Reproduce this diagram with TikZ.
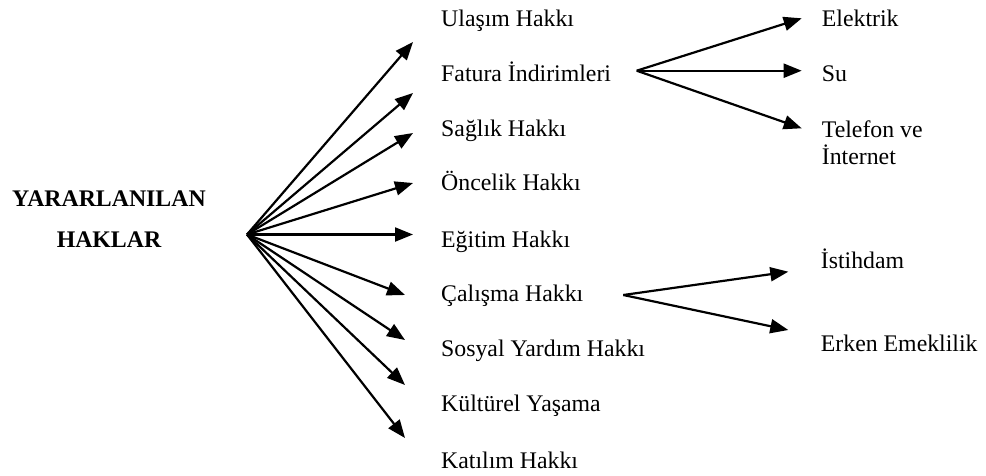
\documentclass[tikz,border=0pt]{standalone}
\usepackage{fontspec}
\setmainfont{Liberation Serif}
\usetikzlibrary{arrows.meta}
\tikzset{
  lbl/.style={anchor=base west,inner sep=0pt,font=\fontsize{23.8}{26.7}\selectfont},
  arr/.style={-{Triangle[length=18pt,width=14pt]},line width=2.2pt}
}
\begin{document}
\begin{tikzpicture}[x=1pt,y=-1pt]
\useasboundingbox (0,0) rectangle (986,475);
% title
\node[anchor=north,inner sep=0pt,align=center,font=\fontsize{23.8}{41}\selectfont\bfseries] (title) at (109,190.7) {YARARLANILAN\\HAKLAR};
% main items
\node[lbl] (n1) at (441,26.7) {Ulaşım Hakkı};
\node[lbl] (n2) at (441,81.7) {Fatura İndirimleri};
\node[lbl] (n3) at (441,136.7) {Sağlık Hakkı};
\node[lbl] (n4) at (441,190.7) {Öncelik Hakkı};
\node[lbl] (n5) at (441,247.3) {Eğitim Hakkı};
\node[lbl] (n6) at (441,301.7) {Çalışma Hakkı};
\node[lbl] (n7) at (441,356.7) {Sosyal Yardım Hakkı};
\node[lbl] (n8) at (441,411.7) {Kültürel Yaşama};
\node[lbl] (n9) at (441,468.3) {Katılım Hakkı};
% sub items
\node[lbl] (e1) at (821.7,26) {Elektrik};
\node[lbl] (e2) at (821.7,81) {Su};
\node[lbl,anchor=north west,align=left] (e3) at (821.7,120.6) {Telefon ve\\İnternet};
\node[lbl] (c1) at (820.7,268) {İstihdam};
\node[lbl] (c2) at (820.7,351) {Erken Emeklilik};
% hubs and tips
\coordinate (hub) at (247,234.5);
\coordinate (t1) at (413,42);
\coordinate (t2) at (413,93);
\coordinate (t3) at (413,133);
\coordinate (t4) at (413,183);
\coordinate (t5) at (413,234.5);
\coordinate (t6) at (405,295);
\coordinate (t7) at (405,340);
\coordinate (t8) at (405,385);
\coordinate (t9) at (405,438);
\coordinate (fhub) at (636.7,70.7);
\coordinate (f1) at (801.7,18.3);
\coordinate (f2) at (801.7,70.7);
\coordinate (f3) at (801.7,128.3);
\coordinate (chub) at (623.3,295);
\coordinate (k1) at (788.3,271.7);
\coordinate (k2) at (788.3,330);
\foreach \t in {t1,t2,t3,t4,t5,t6,t7,t8,t9}{\draw[arr] (hub) -- (\t);}
\foreach \t in {f1,f2,f3}{\draw[arr] (fhub) -- (\t);}
\foreach \t in {k1,k2}{\draw[arr] (chub) -- (\t);}
\end{tikzpicture}
\end{document}
